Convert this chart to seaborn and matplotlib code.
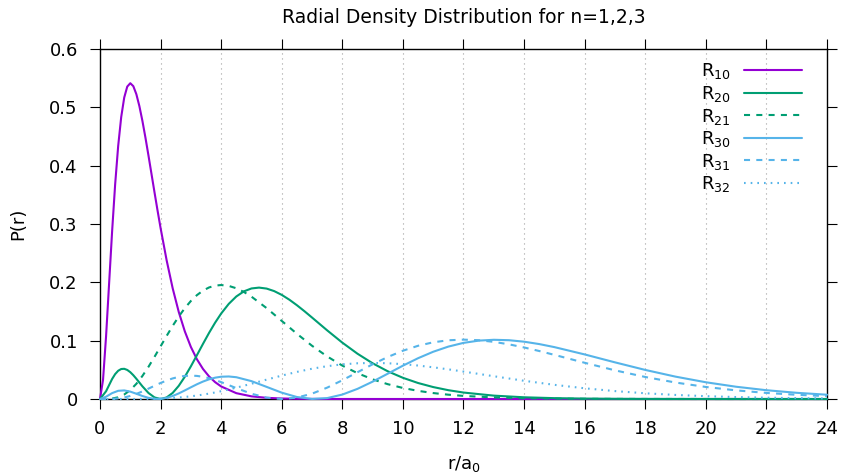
import matplotlib
matplotlib.use("Agg")
import matplotlib.pyplot as plt
import pandas as pd
import seaborn as sns

# Radii (units of a0) shared by most curves
r = [0.0, 0.2, 0.4, 0.6, 0.8, 1.0, 1.2, 1.4, 1.6, 1.8, 2.0, 2.2, 2.4, 2.6, 2.8,
     3.0, 3.2, 3.4, 3.6, 3.8, 4.0, 4.5, 5.0, 5.5, 6.0, 6.5, 7.0, 7.5, 8.0, 8.5,
     9.0, 9.5, 10.0, 10.5, 11.0, 11.5, 12.0, 13.0, 14.0, 15.0, 16.0, 17.0, 18.0,
     19.0, 20.0, 21.0, 22.0, 23.0, 24.0]

# R10: sampled more densely around its sharp peak
r10 = [0.0, 0.1, 0.2, 0.3, 0.4, 0.5, 0.6, 0.7, 0.8, 0.9, 1.0, 1.1, 1.2, 1.3, 1.4,
       1.5, 1.6, 1.7, 1.8, 1.9, 2.0, 2.2, 2.4, 2.6, 2.8, 3.0, 3.2, 3.4, 3.6, 3.8,
       4.0, 4.5, 5.0, 5.5, 6.0, 6.5, 7.0, 7.5, 8.0, 10.0, 12.0, 16.0, 20.0, 24.0]
p10 = [0.0, 0.032749, 0.10725, 0.19757, 0.28757, 0.36788, 0.43371, 0.48333,
       0.51686, 0.53557, 0.54134, 0.53627, 0.52254, 0.50209, 0.47675, 0.44808,
       0.41740, 0.38579, 0.35412, 0.32304, 0.29305, 0.23769, 0.18961, 0.14917,
       0.11597, 0.08924, 0.06806, 0.05150, 0.03870, 0.02891, 0.02147, 0.01000,
       0.00454, 0.00202, 0.000885, 0.000382, 0.000163, 0.0000688, 0.0000288,
       0.0, 0.0, 0.0, 0.0, 0.0]

r20 = [0.0, 0.2, 0.4, 0.5, 0.6, 0.7, 0.8, 0.9, 1.0, 1.1, 1.2, 1.4, 1.6, 1.8, 2.0,
       2.2, 2.4, 2.6, 2.8, 3.0, 3.2, 3.4, 3.6, 3.8, 4.0, 4.25, 4.5, 4.75, 5.0,
       5.25, 5.5, 5.75, 6.0, 6.25, 6.5, 6.75, 7.0, 7.5, 8.0, 8.5, 9.0, 9.5, 10.0,
       10.5, 11.0, 11.5, 12.0, 13.0, 14.0, 15.0, 16.0, 17.0, 18.0, 19.0, 20.0,
       21.0, 22.0, 23.0, 24.0]
p20 = [0.0, 0.013264, 0.03432, 0.042647, 0.048405, 0.051403, 0.05176, 0.04981,
       0.045985, 0.040781, 0.034697, 0.02175, 0.010337, 0.002678, 0.0, 0.002681,
       0.010451, 0.022594, 0.03814, 0.05601, 0.07513, 0.09452, 0.11332, 0.13083,
       0.14653, 0.16304, 0.17575, 0.18453, 0.18950, 0.19096, 0.18930, 0.18498,
       0.17847, 0.17026, 0.16078, 0.15046, 0.13963, 0.11764, 0.09661, 0.07764,
       0.06123, 0.04750, 0.03632, 0.02742, 0.02046, 0.01511, 0.01106, 0.005777,
       0.002934, 0.001454, 0.000706, 0.000336, 0.000158, 0.000073, 0.000033,
       0.00002, 0.00001, 0.0, 0.0]

r21 = [0.0, 0.2, 0.4, 0.6, 0.8, 1.0, 1.2, 1.4, 1.6, 1.8, 2.0, 2.2, 2.4, 2.6, 2.8,
       3.0, 3.2, 3.4, 3.6, 3.8, 4.0, 4.25, 4.5, 4.75, 5.0, 5.5, 6.0, 6.5, 7.0,
       7.5, 8.0, 8.5, 9.0, 9.5, 10.0, 10.5, 11.0, 11.5, 12.0, 13.0, 14.0, 15.0,
       16.0, 17.0, 18.0, 19.0, 20.0, 21.0, 22.0, 23.0, 24.0]
p21 = [0.0, 0.0000546, 0.000715, 0.002964, 0.007669, 0.015328, 0.026023, 0.039473,
       0.055132, 0.072302, 0.090223, 0.10815, 0.12541, 0.14142, 0.15574, 0.16803,
       0.17809, 0.18582, 0.19122, 0.19436, 0.19537, 0.19390, 0.18981, 0.18351,
       0.17547, 0.15582, 0.13386, 0.11182, 0.09123, 0.07292, 0.05725, 0.04426,
       0.03374, 0.02540, 0.01892, 0.01395, 0.01019, 0.007382, 0.005308, 0.002690,
       0.001331, 0.000645, 0.000307, 0.000144, 0.0000666, 0.0000304, 0.0000137,
       0.0, 0.0, 0.0, 0.0]

r30 = [0.0, 0.2, 0.4, 0.6, 0.8, 1.0, 1.2, 1.4, 1.6, 1.8, 2.0, 2.2, 2.4, 2.6, 2.8,
       3.0, 3.2, 3.4, 3.6, 3.8, 4.0, 4.25, 4.5, 5.0, 5.5, 6.0, 6.5, 7.0, 7.5, 8.0,
       8.5, 9.0, 9.5, 10.0, 10.5, 11.0, 11.5, 12.0, 12.5, 13.0, 13.5, 14.0, 14.5,
       15.0, 16.0, 17.0, 18.0, 19.0, 20.0, 21.0, 22.0, 23.0, 24.0]
p30 = [0.0, 0.003922, 0.010082, 0.014040, 0.014700, 0.012625, 0.009015, 0.005125,
       0.001973, 0.000231, 0.000214, 0.001935, 0.005176, 0.009573, 0.014684,
       0.020050, 0.025242, 0.029894, 0.033721, 0.036520, 0.038181, 0.038622,
       0.037340, 0.030630, 0.020781, 0.010854, 0.003409, 0.0000936, 0.001560,
       0.007598, 0.017384, 0.029746, 0.043398, 0.057130, 0.069920, 0.080992,
       0.089840, 0.096215, 0.100064, 0.101509, 0.100796, 0.098233, 0.094164,
       0.088950, 0.076402, 0.062830, 0.049840, 0.038329, 0.028701, 0.021011,
       0.015066, 0.010610, 0.007348]

r31 = [0.0, 0.2, 0.4, 0.6, 0.8, 1.0, 1.2, 1.4, 1.6, 1.8, 2.0, 2.2, 2.4, 2.6, 2.8,
       3.0, 3.2, 3.4, 3.6, 3.8, 4.0, 4.5, 5.0, 5.5, 6.0, 6.5, 7.0, 7.5, 8.0, 8.5,
       9.0, 9.5, 10.0, 10.5, 11.0, 11.5, 12.0, 12.5, 13.0, 13.5, 14.0, 14.5, 15.0,
       16.0, 17.0, 18.0, 19.0, 20.0, 21.0, 22.0, 23.0, 24.0]
p31 = [0.0, 0.0000191, 0.000250, 0.001030, 0.002641, 0.005217, 0.008725, 0.012992,
       0.017747, 0.022669, 0.027428, 0.031717, 0.035284, 0.037937, 0.039560,
       0.040101, 0.039574, 0.038056, 0.035672, 0.032566, 0.028919, 0.018670,
       0.009062, 0.002377, 0.0, 0.002380, 0.009177, 0.019496, 0.032150, 0.045872,
       0.059491, 0.072027, 0.082760, 0.091226, 0.097201, 0.100672, 0.101781,
       0.100773, 0.097966, 0.093714, 0.088369, 0.082249, 0.075667, 0.062089,
       0.049150, 0.037749, 0.028233, 0.020636, 0.014788, 0.010405, 0.007205,
       0.004915]

p32 = [0.0, 0.0, 0.00000015, 0.00000147, 0.0000072, 0.0000241, 0.0000630, 0.000139,
       0.000271, 0.000481, 0.000792, 0.001228, 0.001811, 0.002562, 0.003497,
       0.004630, 0.005968, 0.007515, 0.009268, 0.011219, 0.013357, 0.019403,
       0.026160, 0.033207, 0.040106, 0.046453, 0.051923, 0.056280, 0.059397,
       0.061232, 0.061825, 0.061274, 0.059726, 0.057352, 0.054325, 0.050823,
       0.047012, 0.039016, 0.031249, 0.024270, 0.018354, 0.013556, 0.009807,
       0.006964, 0.004863, 0.003347, 0.002272, 0.001523, 0.001009]

labels = ["R$_{10}$", "R$_{20}$", "R$_{21}$", "R$_{30}$", "R$_{31}$", "R$_{32}$"]
xticks = [0, 2, 4, 6, 8, 10, 12, 14, 16, 18, 20, 22, 24]
yticks = [0.0, 0.1, 0.2, 0.3, 0.4, 0.5, 0.6]
yticklabels = ["0", "0.1", "0.2", "0.3", "0.4", "0.5", "0.6"]

purple = "#9400d3"
green = "#009e73"
blue = "#56b4e9"
colors = [purple, green, green, blue, blue, blue]
dashes = [None, None, (2.9, 3.0), None, (2.9, 3.0), (0.8, 2.4)]

sns.set_theme(style="ticks")
plt.rcParams["font.family"] = ["DejaVu Sans"]
plt.rcParams["mathtext.default"] = "regular"
plt.rcParams["text.color"] = "black"
plt.rcParams["axes.labelcolor"] = "black"

fig = plt.figure(figsize=(8.45, 4.76), dpi=100)
ax = fig.add_axes([100 / 845, 1 - 399 / 476, 727 / 845, 350 / 476])

curves = [(r10, p10), (r20, p20), (r21, p21), (r30, p30), (r31, p31), (r, p32)]
for (xs, ys), lab, col, dsh in zip(curves, labels, colors, dashes):
    df = pd.DataFrame({"r": xs, "P": ys})
    sns.lineplot(data=df, x="r", y="P", ax=ax, color=col, linewidth=1.5,
                 label=lab, zorder=3, clip_on=False)
    line = ax.lines[-1]
    if dsh:
        line.set_dashes(dsh)

ax.set_xlim(0, 24)
ax.set_ylim(0, 0.6)
ax.set_xticks(xticks)
ax.set_xticklabels([str(t) for t in xticks])
ax.set_yticks(yticks)
ax.set_yticklabels(yticklabels)

# dotted vertical grid at the inner x ticks
for x in xticks[1:-1]:
    ax.axvline(x, color="#a0a0a0", linewidth=0.8, linestyle=(0, (1, 3.5)), zorder=1)

for s in ax.spines.values():
    s.set_visible(True)
    s.set_linewidth(1.0)
    s.set_color("black")

ax.tick_params(axis="both", which="both", direction="out", length=7, width=0.8,
               colors="black", labelsize=13, top=True, right=True,
               labeltop=False, labelright=False)
ax.tick_params(axis="x", pad=8)
ax.tick_params(axis="y", pad=9)

ax.set_xlabel("r/a$_0$", fontsize=13, labelpad=12, color="black")
ax.set_ylabel("P(r)", fontsize=13, labelpad=16, color="black")
ax.set_title("Radial Density Distribution for n=1,2,3", fontsize=13.5, pad=19,
             color="black")

leg = ax.legend(loc="upper right", bbox_to_anchor=(0.975, 0.985), frameon=False,
                markerfirst=False, fontsize=13, handlelength=3.2,
                labelspacing=0.14, handletextpad=0.72, borderaxespad=0.0)
for t in leg.get_texts():
    t.set_ha("right")
    t.set_color("black")

fig.savefig("out.png", dpi=100)
